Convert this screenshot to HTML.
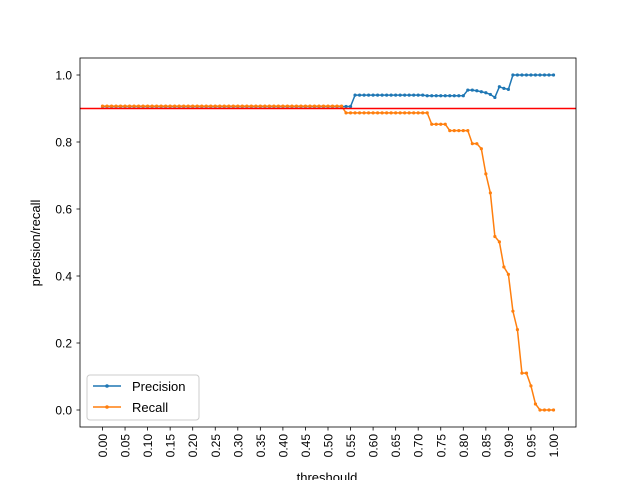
<!DOCTYPE html>
<html><head><meta charset="utf-8"><style>body{margin:0;background:#fff}svg{font-family:"Liberation Sans","DejaVu Sans",sans-serif}</style></head>
<body>
<svg id="c" width="640" height="480" viewBox="0 0 640 480">
<rect x="0" y="0" width="640" height="480" fill="#fff"/>
<g id="plot"></g>
<rect x="80" y="58" width="496" height="369" fill="none" stroke="#000" stroke-width="0.8"/>
<text x="327" y="482" font-size="13" text-anchor="middle">threshould</text>
<text transform="translate(40,243) rotate(-90)" font-size="13" text-anchor="middle">precision/recall</text>
<g>
<rect x="87" y="375" width="112" height="45" rx="3" fill="#fff" fill-opacity="0.8" stroke="#ccc"/>
<g>
<line x1="93" y1="386" x2="121" y2="386" stroke="#1f77b4" stroke-width="1.5"/><circle cx="107" cy="386" r="1.8" fill="#1f77b4"/>
<text x="132" y="391" font-size="13">Precision</text></g>
<g>
<line x1="93" y1="407" x2="121" y2="407" stroke="#ff7f0e" stroke-width="1.5"/><circle cx="107" cy="407" r="1.8" fill="#ff7f0e"/>
<text x="132" y="412" font-size="13">Recall</text></g>
</g>
</svg>
<script>
const precision=[0.906,0.906,0.906,0.906,0.906,0.906,0.906,0.906,0.906,0.906,0.906,0.906,0.906,0.906,0.906,0.906,0.906,0.906,0.906,0.906,0.906,0.906,0.906,0.906,0.906,0.906,0.906,0.906,0.906,0.906,0.906,0.906,0.906,0.906,0.906,0.906,0.906,0.906,0.906,0.906,0.906,0.906,0.906,0.906,0.906,0.906,0.906,0.906,0.906,0.906,0.906,0.906,0.906,0.906,0.906,0.906,
0.94,0.94,0.94,0.94,0.94,0.94,0.94,0.94,0.94,0.94,0.94,0.94,0.94,0.94,0.94,0.94,
0.938,0.938,0.938,0.938,0.938,0.938,0.938,0.938,0.938,
0.955,0.955,0.953,0.95,0.947,0.942,0.933,0.965,0.96,0.957,
1,1,1,1,1,1,1,1,1,1];
const recall=[0.907,0.907,0.907,0.907,0.907,0.907,0.907,0.907,0.907,0.907,0.907,0.907,0.907,0.907,0.907,0.907,0.907,0.907,0.907,0.907,0.907,0.907,0.907,0.907,0.907,0.907,0.907,0.907,0.907,0.907,0.907,0.907,0.907,0.907,0.907,0.907,0.907,0.907,0.907,0.907,0.907,0.907,0.907,0.907,0.907,0.907,0.907,0.907,0.907,0.907,0.907,0.907,0.907,0.907,
0.887,0.887,0.887,0.887,0.887,0.887,0.887,0.887,0.887,0.887,0.887,0.887,0.887,0.887,0.887,0.887,0.887,0.887,0.887,
0.853,0.853,0.853,0.853,
0.834,0.834,0.834,0.834,0.834,
0.795,0.795,0.78,0.705,0.648,0.518,0.502,0.427,0.405,0.295,0.24,0.11,0.11,0.072,0.018,
0,0,0,0];
const xTicks=["0.00","0.05","0.10","0.15","0.20","0.25","0.30","0.35","0.40","0.45","0.50","0.55","0.60","0.65","0.70","0.75","0.80","0.85","0.90","0.95","1.00"];
const yTicks=[0.0,0.2,0.4,0.6,0.8,1.0];
const refLine=0.9;
const NS="http://www.w3.org/2000/svg";
const g=document.getElementById('plot');
const X=t=>102.5+t*451;
const Y=v=>410-v*335;
function mk(tag,a){const e=document.createElementNS(NS,tag);for(const k in a)e.setAttribute(k,a[k]);g.appendChild(e);return e;}
xTicks.forEach(s=>{const v=parseFloat(s);
 const l=mk('line',{x1:X(v),x2:X(v),y1:427,y2:430.5,stroke:'#000','stroke-width':0.8});
 
 
 const t=mk('text',{transform:`translate(${X(v)+4.5},434) rotate(-90)`,'font-size':12,'text-anchor':'end'});t.textContent=s;
 
 
});
yTicks.forEach(v=>{
 const l=mk('line',{x1:76.5,x2:80,y1:Y(v),y2:Y(v),stroke:'#000','stroke-width':0.8});
 
 
 const t=mk('text',{x:72,y:Y(v)+4.5,'font-size':12,'text-anchor':'end'});t.textContent=v.toFixed(1);
 
 
});
function series(arr,color,name){
 const pts=arr.map((v,i)=>X(i/100)+','+Y(v)).join(' ');
 const p=mk('polyline',{points:pts,fill:'none',stroke:color,'stroke-width':1.5});
 
 
 arr.forEach((v,i)=>{const c=mk('circle',{cx:X(i/100),cy:Y(v),r:1.6,fill:color});
  
  });
}
series(precision,'#1f77b4','precision');
series(recall,'#ff7f0e','recall');
const r=mk('line',{x1:80,x2:576,y1:Y(refLine),y2:Y(refLine),stroke:'#ff0000','stroke-width':1.5});


</script>
</body></html>
